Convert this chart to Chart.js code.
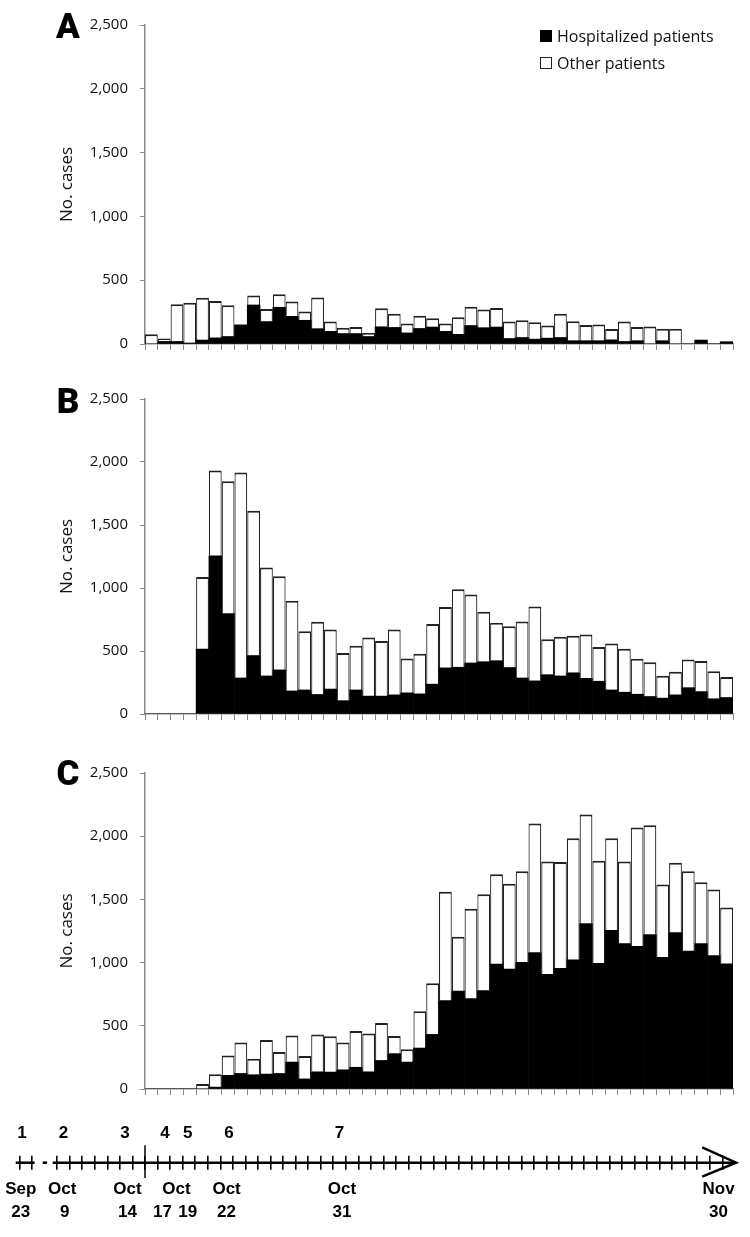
<!DOCTYPE html>
<html>
<head>
<meta charset="utf-8">
<script src="https://cdn.jsdelivr.net/npm/chart.js@4.4.1/dist/chart.umd.min.js"></script>
<style>
  body { margin: 0; background: #fff; }
  #page { position: relative; width: 750px; height: 1237px; overflow: hidden; }
  .box { position: absolute; left: 0; width: 750px; }
  .letter {
    position: absolute; font-family: Roboto, "DejaVu Sans", sans-serif; font-weight: 900;
    font-size: 35px; line-height: 1; transform: translate(-50%, -50%); color: #000;
  }
  .legend { position: absolute; left: 540px; font-family: "Open Sans", sans-serif; font-size: 16px; color: #111; }
  .legend div { display: flex; align-items: center; height: 27px; }
  .legend span.sw { display: inline-block; width: 12px; height: 12px; margin-right: 5px; box-sizing: border-box; }
</style>
</head>
<body>
<div id="page">
  <div class="box" style="top:0;height:365px"><canvas id="chartA"></canvas></div>
  <div class="box" style="top:365px;height:370px"><canvas id="chartB"></canvas></div>
  <div class="box" style="top:735px;height:375px"><canvas id="chartC"></canvas></div>
  <div class="box" style="top:1110px;height:127px"><canvas id="timeline"></canvas></div>

  <div class="letter" style="left:68px;top:26px">A</div>
  <div class="letter" style="left:68px;top:401px">B</div>
  <div class="letter" style="left:68px;top:773px">C</div>

  <div class="legend" style="top:22px">
    <div><span class="sw" style="background:#000"></span>Hospitalized patients</div>
    <div><span class="sw" style="background:#fff;border:1.5px solid #222"></span>Other patients</div>
  </div>
</div>

<script>
// dias (um por barra)
const days = ['Oct 14','Oct 15','Oct 16','Oct 17','Oct 18','Oct 19','Oct 20','Oct 21','Oct 22','Oct 23',
  'Oct 24','Oct 25','Oct 26','Oct 27','Oct 28','Oct 29','Oct 30','Oct 31','Nov 1','Nov 2',
  'Nov 3','Nov 4','Nov 5','Nov 6','Nov 7','Nov 8','Nov 9','Nov 10','Nov 11','Nov 12',
  'Nov 13','Nov 14','Nov 15','Nov 16','Nov 17','Nov 18','Nov 19','Nov 20','Nov 21','Nov 22',
  'Nov 23','Nov 24','Nov 25','Nov 26','Nov 27','Nov 28'];

// Painel A
const hospA = [0, 20, 20, 8, 31, 48, 59, 150, 306, 176, 288, 217, 186, 120, 99, 82, 82, 59, 135, 130,
  87, 122, 133, 99, 76, 145, 128, 133, 43, 51, 38, 46, 51, 26, 26, 26, 33, 20, 26, 0,
  26, 0, 0, 31, 0, 18];
const otherA = [76, 23, 291, 316, 331, 289, 244, 0, 74, 99, 102, 117, 69, 245, 77, 46, 51, 28, 145, 107,
  74, 100, 68, 62, 133, 146, 142, 150, 133, 135, 133, 99, 186, 152, 122, 127, 84, 156, 107, 138,
  94, 120, 0, 0, 0, 0];

// Painel B
const hospB = [0, 0, 0, 0, 515, 1255, 796, 286, 464, 302, 350, 183, 191, 155, 198, 106, 191, 142, 142, 152,
  168, 160, 237, 366, 371, 405, 415, 423, 369, 286, 263, 312, 302, 327, 283, 260, 191, 173, 157, 139,
  126, 152, 209, 178, 121, 131];
const otherB = [0, 0, 0, 0, 572, 678, 1052, 1631, 1149, 860, 743, 716, 466, 577, 472, 378, 350, 466, 438, 518,
  273, 319, 477, 484, 619, 543, 397, 301, 327, 448, 590, 281, 311, 294, 348, 271, 368, 345, 281, 271,
  178, 183, 224, 242, 219, 163];

// Painel C
const hospC = [0, 0, 0, 0, 0, 15, 108, 123, 113, 118, 123, 213, 80, 136, 134, 152, 172, 136, 226, 280,
  213, 324, 432, 700, 774, 715, 779, 988, 949, 1003, 1080, 908, 954, 1021, 1309, 995, 1255, 1150, 1129, 1222,
  1042, 1237, 1091, 1150, 1055, 990];
const otherC = [0, 0, 0, 0, 39, 101, 157, 245, 126, 270, 170, 211, 182, 296, 283, 216, 286, 304, 296, 139,
  101, 291, 404, 861, 430, 712, 762, 710, 674, 720, 1021, 892, 841, 962, 862, 811, 728, 650, 939, 864,
  576, 553, 632, 486, 524, 445];

const yMax = 2500;
const yStep = 500;

// Linha do tempo (posicao em dias relativos a Oct 14)
const eventNumbers = ['1', '2', '3', '4', '5', '6', '7'];
const eventPos = [-9.8, -6.5, -1.6, 1.6, 3.4, 6.7, 15.5];
const dateMonths = ['Sep', 'Oct', 'Oct', 'Oct', 'Oct', 'Oct', 'Nov'];
const dateMonthPos = [-9.9, -6.6, -1.4, 2.5, 6.5, 15.7, 45.7];
const dateDays = ['23', '9', '14', '17', '19', '22', '31', '30'];
const dateDayPos = [-9.9, -6.4, -1.4, 1.4, 3.4, 6.5, 15.7, 45.7];

const axisSegments = [
  [{x: -10.3, y: 0}, {x: -8.8, y: 0}],
  [{x: -8.15, y: 0}, {x: -7.8, y: 0}],
  [{x: -7.35, y: 0}, {x: 47.1, y: 0}]
];
const arrowHead = [{x: 44.4, y: 2.2}, {x: 47.1, y: 0}, {x: 44.4, y: -2.0}];
const startMark = [{x: 0, y: 2.5}, {x: 0, y: -2.2}];

// Cria um painel de barras empilhadas
function criarPainel(id, hosp, other, padTop) {
  const ctx = document.getElementById(id).getContext('2d');
  return new Chart(ctx, {
    type: 'bar',
    data: {
      labels: days,
      datasets: [{
        label: 'Hospitalized patients',
        data: hosp,
        backgroundColor: '#000',
        borderWidth: 0,
        categoryPercentage: 1,
        barPercentage: 1
      }, {
        label: 'Other patients',
        data: other,
        backgroundColor: '#fff',
        borderColor: '#222',
        borderWidth: {top: 2, left: 1.2, right: 1.2, bottom: 0},
        inflateAmount: 0,
        categoryPercentage: 1,
        barPercentage: 1
      }]
    },
    options: {
      responsive: true,
      maintainAspectRatio: false,
      animation: false,
      layout: { padding: { top: padTop, bottom: 7, left: 57, right: 17 } },
      plugins: { legend: { display: false }, tooltip: { enabled: false } },
      scales: {
        x: {
          stacked: true,
          ticks: { display: false },
          grid: { offset: true, drawOnChartArea: false, tickLength: 6, color: '#888', lineWidth: 1 },
          border: { color: '#888', width: 1.5 }
        },
        y: {
          stacked: true,
          min: 0,
          max: yMax,
          afterFit(scale) { scale.width = 88; },
          ticks: {
            stepSize: yStep,
            padding: 12,
            color: '#111',
            font: { family: 'Open Sans', size: 15 },
            callback: v => v.toLocaleString('en-US')
          },
          grid: { drawOnChartArea: false, tickLength: 5, color: '#888' },
          border: { color: '#888', width: 1.5 },
          title: {
            display: true,
            text: 'No. cases',
            color: '#111',
            padding: 0,
            font: { family: 'Open Sans', size: 17 }
          }
        }
      }
    }
  });
}

criarPainel('chartA', hospA, otherA, 25);
criarPainel('chartB', hospB, otherB, 34);
criarPainel('chartC', hospC, otherC, 38);

// Textos da linha do tempo
const textoLinhaTempo = {
  id: 'textoLinhaTempo',
  afterDatasetsDraw(chart) {
    const {ctx, scales: {x, y}} = chart;
    ctx.save();
    ctx.fillStyle = '#000';
    ctx.font = 'bold 17px "Liberation Sans", Arial, sans-serif';
    ctx.textAlign = 'center';
    ctx.textBaseline = 'middle';
    eventNumbers.forEach((t, i) => ctx.fillText(t, x.getPixelForValue(eventPos[i]), y.getPixelForValue(4.2)));
    dateMonths.forEach((t, i) => ctx.fillText(t, x.getPixelForValue(dateMonthPos[i]), y.getPixelForValue(-3.75)));
    dateDays.forEach((t, i) => ctx.fillText(t, x.getPixelForValue(dateDayPos[i]), y.getPixelForValue(-7.05)));
    ctx.restore();
  }
};

const linhaBase = { showLine: true, pointRadius: 0, borderColor: '#000', clip: false, fill: false };

new Chart(document.getElementById('timeline').getContext('2d'), {
  type: 'scatter',
  data: {
    datasets: [
      ...axisSegments.map(seg => ({ ...linhaBase, data: seg, borderWidth: 2.5 })),
      { ...linhaBase, data: arrowHead, borderWidth: 2.5 },
      { ...linhaBase, data: startMark, borderWidth: 1.5 }
    ]
  },
  options: {
    responsive: true,
    maintainAspectRatio: false,
    animation: false,
    layout: { padding: { top: 45.7, bottom: 67.3, left: 6.95, right: 2.6 } },
    plugins: { legend: { display: false }, tooltip: { enabled: false } },
    scales: {
      x: {
        type: 'linear',
        min: -11,
        max: 48,
        position: { y: 0 },
        ticks: { display: false, stepSize: 1 },
        border: { display: false },
        grid: {
          drawTicks: false,
          drawOnChartArea: true,
          lineWidth: 1.6,
          color: c => {
            const v = c.tick ? c.tick.value : 0;
            return (v < -10 || v > 46 || v === -8) ? 'rgba(0,0,0,0)' : '#000';
          }
        }
      },
      y: { min: -1, max: 1, display: false }
    }
  },
  plugins: [textoLinhaTempo]
});
</script>
</body>
</html>
